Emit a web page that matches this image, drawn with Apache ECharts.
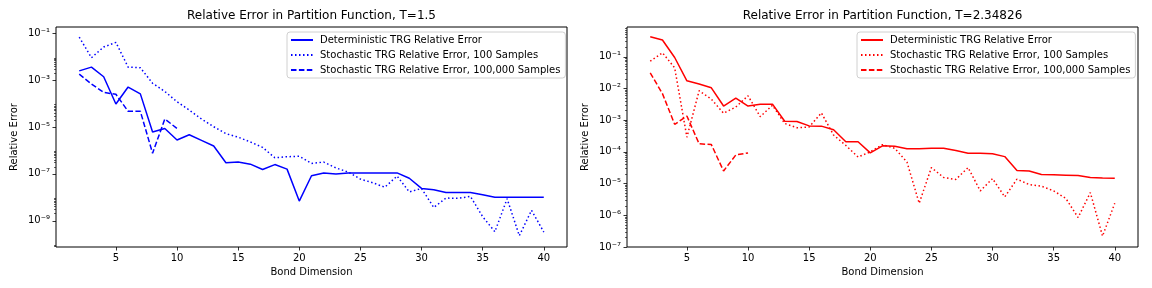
<!DOCTYPE html>
<html><head><meta charset="utf-8">
<script src="https://cdn.jsdelivr.net/npm/echarts@6/dist/echarts.min.js"></script>
<style>html,body{margin:0;padding:0;background:#fff}#c{width:1152px;height:288px}</style>
</head><body><div id="c"></div>
<script>
// ---------- data ----------
const bondDims = [2,3,4,5,6,7,8,9,10,11,12,13,14,15,16,17,18,19,20,21,22,23,24,25,26,27,28,29,30,31,32,33,34,35,36,37,38,39,40];
const bondDimsShort = [2,3,4,5,6,7,8,9,10];
const xTickValues = [5,10,15,20,25,30,35,40];

// T = 1.5
const leftDeterministic = [2.5e-3,3.6e-3,1.4e-3,9.6e-5,5.1e-4,2.6e-4,6.1e-6,8.7e-6,2.8e-6,4.7e-6,2.7e-6,1.55e-6,3.0e-7,3.2e-7,2.6e-7,1.55e-7,2.5e-7,1.6e-7,6.9e-9,8.3e-8,1.1e-7,1.0e-7,1.1e-7,1.1e-7,1.1e-7,1.1e-7,1.1e-7,6.5e-8,2.4e-8,2.1e-8,1.6e-8,1.6e-8,1.6e-8,1.3e-8,1.0e-8,1.0e-8,1.0e-8,1.0e-8,1.0e-8];
const leftStoch100 = [6.9e-2,9.1e-3,2.6e-2,4.1e-2,3.6e-3,3.4e-3,7.4e-4,3.3e-4,1.2e-4,5.3e-5,2.2e-5,1.03e-5,5.2e-6,3.7e-6,2.3e-6,1.35e-6,4.9e-7,5.4e-7,5.7e-7,2.8e-7,3.2e-7,1.8e-7,1.2e-7,6.0e-8,4.2e-8,2.7e-8,8.1e-8,1.7e-8,2.4e-8,3.7e-9,9.3e-9,9.1e-9,1.1e-8,1.5e-9,3.4e-10,8.7e-9,2.3e-10,2.8e-9,3.3e-10];
const leftStoch100k = [1.8e-3,6.9e-4,3.0e-4,2.5e-4,4.7e-5,4.7e-5,7.6e-7,2.2e-5,8.7e-6];

// T = 2.34826
const rightDeterministic = [0.43,0.34,0.095,0.0175,0.0138,0.0105,2.8e-3,5.0e-3,2.8e-3,3.2e-3,3.2e-3,9.3e-4,9.1e-4,6.6e-4,6.5e-4,5.0e-4,2.1e-4,2.1e-4,9.3e-5,1.55e-4,1.5e-4,1.25e-4,1.25e-4,1.3e-4,1.3e-4,1.1e-4,9.1e-5,9.1e-5,8.7e-5,7.1e-5,2.6e-5,2.5e-5,1.95e-5,1.9e-5,1.85e-5,1.8e-5,1.55e-5,1.5e-5,1.48e-5];
const rightStoch100 = [0.073,0.134,0.045,2.9e-4,8.5e-3,4.6e-3,1.66e-3,2.6e-3,5.9e-3,1.29e-3,2.96e-3,7.9e-4,5.8e-4,6.1e-4,1.7e-3,3.4e-4,1.6e-4,6.9e-5,1.0e-4,1.7e-4,1.3e-4,4.8e-5,2.4e-6,3.2e-5,1.56e-5,1.35e-5,3.2e-5,5.9e-6,1.44e-5,3.8e-6,1.38e-5,9.3e-6,8.3e-6,5.9e-6,3.4e-6,8.5e-7,5.2e-6,2.2e-7,2.4e-6];
const rightStoch100k = [0.031,6.9e-3,7.4e-4,1.35e-3,1.8e-4,1.7e-4,2.5e-5,8.0e-5,9.3e-5];

const seriesNames = ['Deterministic TRG Relative Error','Stochastic TRG Relative Error, 100 Samples','Stochastic TRG Relative Error, 100,000 Samples'];
const titles = ['Relative Error in Partition Function, T=1.5','Relative Error in Partition Function, T=2.34826'];
const leftMajorExp = [-9,-7,-5,-3,-1];
const rightMajorExp = [-7,-6,-5,-4,-3,-2,-1];
const leftMinorDecades = [-11,-9,-7,-5,-3,-1];
const rightMinorDecades = [-8,-7,-6,-5,-4,-3,-2,-1];
const minorMults = [2,3,4,5,6,7,8,9];

// ---------- helpers ----------
const FONT = 'DejaVu Sans';
const SUP = {'-':'\u207B','0':'\u2070','1':'\u00B9','2':'\u00B2','3':'\u00B3','4':'\u2074','5':'\u2075','6':'\u2076','7':'\u2077','8':'\u2078','9':'\u2079'};
function supFmt(v){ const e = Math.round(v); return '10' + String(e).split('').map(c => SUP[c]).join(''); }
function minorTicks(decs){ const out=[]; decs.forEach(d => minorMults.forEach(k => out.push(d + Math.log10(k)))); return out; }

const leftRange = [-10.12, -0.73];
const rightRange = [-7, -0.06];
const RSUF = '\u200B';
const pairs = (xs, ys) => xs.map((x, i) => [x, ys[i]]);
const DOT = [1.5, 2.5], DASH = [5.5, 2.4];

function line(name, xs, ys, color, type, xi, yi){
  return {name, type:'line', xAxisIndex:xi, yAxisIndex:yi, data:pairs(xs, ys),
    symbol:'none', showSymbol:false, animation:false,
    lineStyle:{color, width:1.5, type, cap:'butt'}, itemStyle:{color}};
}

function xAxis(gi){
  return {type:'value', gridIndex:gi, position:'bottom', min:0.1, max:41.9,
    axisLine:{show:false}, splitLine:{show:false},
    axisTick:{show:true, length:3.5, customValues:xTickValues, lineStyle:{color:'#000', width:0.8}},
    axisLabel:{customValues:xTickValues, margin:6, fontSize:10, color:'#000', fontFamily:FONT},
    name:'Bond Dimension', nameLocation:'middle', nameGap:18,
    nameTextStyle:{fontSize:10, color:'#000', fontFamily:FONT}};
}
function yLog(gi, r){
  return {type:'log', logBase:10, gridIndex:gi, position:'left', offset:0, min:Math.pow(10, r[0]), max:Math.pow(10, r[1]),
    axisLine:{show:false}, axisTick:{show:false}, axisLabel:{show:false}, splitLine:{show:false}};
}
function yMajor(gi, r, vals){
  return {type:'value', gridIndex:gi, position:'left', offset:0, min:r[0], max:r[1],
    axisLine:{show:false}, splitLine:{show:false},
    axisTick:{show:true, length:3.5, customValues:vals, lineStyle:{color:'#000', width:0.8}},
    axisLabel:{customValues:vals, formatter:supFmt, margin:6, fontSize:10, color:'#000', fontFamily:FONT},
    name:'Relative Error', nameLocation:'middle', nameGap:37,
    nameTextStyle:{fontSize:10, color:'#000', fontFamily:FONT}};
}
function yMinor(gi, r, vals){
  return {type:'value', gridIndex:gi, position:'left', offset:0, min:r[0], max:r[1],
    axisLine:{show:false}, splitLine:{show:false},
    axisTick:{show:true, length:2, customValues:vals.filter(v => v >= r[0] && v <= r[1]), lineStyle:{color:'#000', width:0.6}},
    axisLabel:{show:false}};
}
function legend(left, suffix){
  return {left, top:32, orient:'vertical', data:seriesNames.map(n => n + suffix),
    itemWidth:22, itemHeight:10, itemGap:5, padding:[3,5,3,3],
    borderColor:'#d0d0d0', borderWidth:1, borderRadius:3, backgroundColor:'#fff',
    selectedMode:false, formatter:n => n.replace(RSUF, ''),
    itemStyle:{opacity:0},
    textStyle:{fontSize:10, color:'#000', fontFamily:FONT, padding:[0,0,0,2]}};
}

const chart = echarts.init(document.getElementById('c'), null, {renderer:'canvas'});
chart.setOption({
  animation:false,
  backgroundColor:'#fff',
  title:[
    {text:titles[0], left:311.5, top:10, textAlign:'center', padding:0, textStyle:{fontSize:12, fontWeight:'normal', color:'#000', fontFamily:FONT}},
    {text:titles[1], left:882.5, top:10, textAlign:'center', padding:0, textStyle:{fontSize:12, fontWeight:'normal', color:'#000', fontFamily:FONT}}
  ],
  grid:[
    {left:56, top:27, width:511, height:220, show:true, borderColor:'#000', borderWidth:1, containLabel:false},
    {left:627, top:27, width:511, height:220, show:true, borderColor:'#000', borderWidth:1, containLabel:false}
  ],
  xAxis:[xAxis(0), xAxis(1)],
  yAxis:[
    yLog(0, leftRange), yMajor(0, leftRange, leftMajorExp), yMinor(0, leftRange, minorTicks(leftMinorDecades)),
    yLog(1, rightRange), yMajor(1, rightRange, rightMajorExp), yMinor(1, rightRange, minorTicks(rightMinorDecades))
  ],
  legend:[legend(287, ''), legend(857, RSUF)],
  series:[
    line(seriesNames[0], bondDims, leftDeterministic, '#0000ff', 'solid', 0, 0),
    line(seriesNames[1], bondDims, leftStoch100, '#0000ff', DOT, 0, 0),
    line(seriesNames[2], bondDimsShort, leftStoch100k, '#0000ff', DASH, 0, 0),
    line(seriesNames[0] + RSUF, bondDims, rightDeterministic, '#ff0000', 'solid', 1, 3),
    line(seriesNames[1] + RSUF, bondDims, rightStoch100, '#ff0000', DOT, 1, 3),
    line(seriesNames[2] + RSUF, bondDimsShort, rightStoch100k, '#ff0000', DASH, 1, 3)
  ]
});
</script>
</body></html>
